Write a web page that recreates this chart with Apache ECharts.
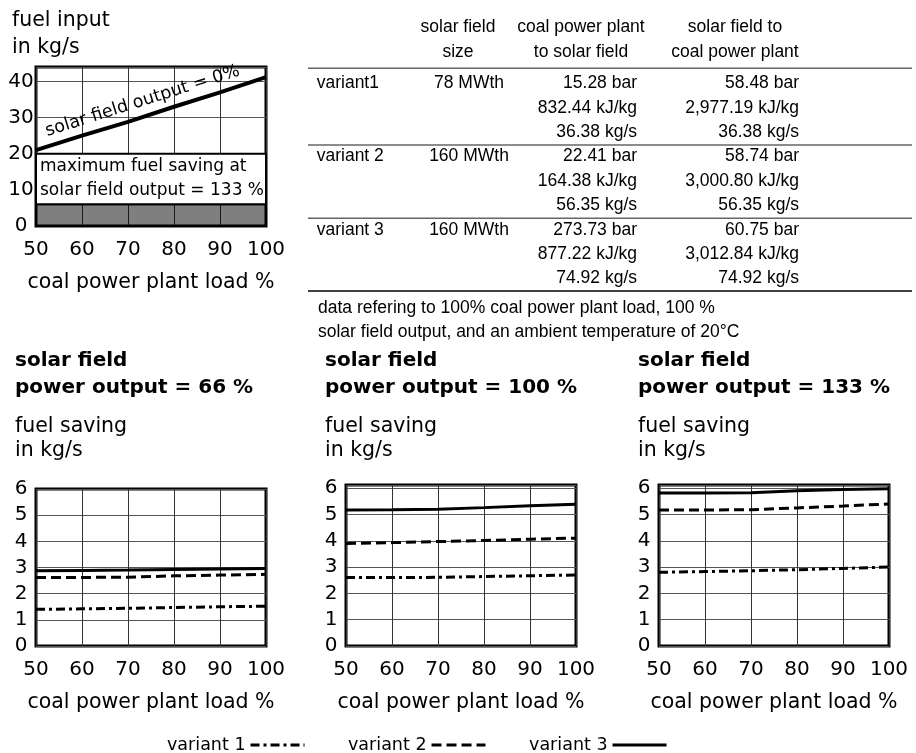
<!DOCTYPE html>
<html>
<head>
<meta charset="utf-8">
<script src="https://cdn.jsdelivr.net/npm/echarts@6/dist/echarts.min.js"></script>
<style>
html, body { margin: 0; padding: 0; background: #fff; }
#chart { width: 916px; height: 753px; }
</style>
</head>
<body>
<div id="chart"></div>
<script>
// coal power plant load in %
const loads = [50, 60, 70, 80, 90, 100]

// fuel input without solar support (kg/s)
const fuelInput0 = [21, 25, 28.8, 33, 37, 41.2]
const maxSaving133 = 6
const noteBoxTop = 20

// fuel saving in kg/s, solar field output 66 %
const saving66V1 = [1.40, 1.42, 1.44, 1.47, 1.50, 1.52]
const saving66V2 = [2.62, 2.62, 2.63, 2.68, 2.71, 2.74]
const saving66V3 = [2.88, 2.89, 2.90, 2.92, 2.94, 2.96]
// solar field output 100 %
const saving100V1 = [2.60, 2.60, 2.61, 2.64, 2.67, 2.70]
const saving100V2 = [3.90, 3.93, 3.97, 4.01, 4.06, 4.10]
const saving100V3 = [5.17, 5.18, 5.20, 5.26, 5.33, 5.39]
// solar field output 133 %
const saving133V1 = [2.80, 2.83, 2.86, 2.90, 2.95, 3.00]
const saving133V2 = [5.17, 5.17, 5.18, 5.25, 5.32, 5.40]
const saving133V3 = [5.82, 5.82, 5.83, 5.90, 5.95, 5.98]

const variantNames = ['variant 1', 'variant 2', 'variant 3']
const panelTitles = ['solar field\npower output = 66 %', 'solar field\npower output = 100 %', 'solar field\npower output = 133 %']

// table
const tableHead = ['solar field\nsize', 'coal power plant\nto solar field', 'solar field to\ncoal power plant']
const tableVariants = ['variant1', 'variant 2', 'variant 3']
const fieldSize = ['78 MWth', '160 MWth', '160 MWth']
const plantToField = [
  ['15.28 bar', '832.44 kJ/kg', '36.38 kg/s'],
  ['22.41 bar', '164.38 kJ/kg', '56.35 kg/s'],
  ['273.73 bar', '877.22 kJ/kg', '74.92 kg/s']
]
const fieldToPlant = [
  ['58.48 bar', '2,977.19 kJ/kg', '36.38 kg/s'],
  ['58.74 bar', '3,000.80 kJ/kg', '56.35 kg/s'],
  ['60.75 bar', '3,012.84 kJ/kg', '74.92 kg/s']
]
const tableNote = 'data refering to 100% coal power plant load, 100 %\nsolar field output, and an ambient temperature of 20°C'

const fontChart = 'DejaVu Sans'
const fontTable = 'Liberation Sans'
const lineTypes = [[9, 4, 3, 4], [10, 5], 'solid']

const myChart = echarts.init(document.getElementById('chart'))

const gridBoxes = [
  { left: 36, top: 67, width: 230, height: 159 },
  { left: 36, top: 489, width: 230, height: 157 },
  { left: 346, top: 485, width: 230, height: 161 },
  { left: 659, top: 485, width: 230, height: 161 }
]
const yMax = [44, 6, 6.12, 6.12]
const yStep = [10, 1, 1, 1]

const grids = gridBoxes.map(g => Object.assign({
  show: true,
  borderColor: '#000',
  borderWidth: 3,
  backgroundColor: 'transparent',
  containLabel: false,
  outerBoundsMode: 'none'
}, g))

const xAxes = gridBoxes.map((g, i) => ({
  gridIndex: i,
  type: 'value',
  min: 50,
  max: 100,
  interval: 10,
  axisLine: { show: false },
  axisTick: { show: false },
  axisLabel: { color: '#000', fontSize: 20, fontFamily: fontChart, margin: 14 },
  splitLine: { show: true, lineStyle: { color: '#333', width: 1 } },
  name: 'coal power plant load %',
  nameLocation: 'middle',
  nameGap: 46,
  nameTextStyle: { color: '#000', fontSize: 20.5, fontFamily: fontChart }
}))

const yAxes = gridBoxes.map((g, i) => ({
  gridIndex: i,
  type: 'value',
  min: 0,
  max: yMax[i],
  interval: yStep[i],
  axisLine: { show: false },
  axisTick: { show: false },
  axisLabel: {
    color: '#000',
    fontSize: 20,
    fontFamily: fontChart,
    align: 'center',
    margin: 15,
    formatter: function(v) {
      return Math.abs(v / yStep[i] - Math.round(v / yStep[i])) < 1e-6 ? String(v) : ''
    }
  },
  splitLine: { show: true, lineStyle: { color: '#555', width: 1 } }
}))

function pairs(arr) {
  return loads.map((x, j) => [x, arr[j]])
}

let series = []

// top panel: fuel input at solar field output = 0 %
series.push({
  name: 'fuel input',
  type: 'line',
  xAxisIndex: 0,
  yAxisIndex: 0,
  data: pairs(fuelInput0),
  symbol: 'none',
  silent: true,
  lineStyle: { color: '#000', width: 4, type: 'solid' },
  markPoint: {
    symbol: 'circle',
    symbolSize: 1,
    silent: true,
    itemStyle: { color: 'rgba(0,0,0,0)' },
    label: {
      show: true,
      position: 'inside',
      rotate: 17.5,
      offset: [-4, -15],
      formatter: 'solar field output = 0%',
      color: '#000',
      fontSize: 17.5,
      fontFamily: fontChart
    },
    data: [{ coord: [(loads[2] + loads[3]) / 2, (fuelInput0[2] + fuelInput0[3]) / 2] }]
  },
  markArea: {
    silent: true,
    label: { show: false },
    data: [
      [
        { yAxis: 0, itemStyle: { color: 'rgba(0,0,0,0.5)', borderColor: '#000', borderWidth: 2 } },
        { yAxis: maxSaving133 }
      ],
      [
        {
          yAxis: maxSaving133,
          itemStyle: { color: '#fff', borderColor: '#000', borderWidth: 2 },
          label: {
            show: true,
            position: 'insideLeft',
            distance: 5,
            formatter: 'maximum fuel saving at\nsolar field output = 133 %',
            color: '#000',
            fontSize: 17,
            lineHeight: 24,
            fontFamily: fontChart
          }
        },
        { yAxis: noteBoxTop }
      ]
    ]
  }
})

const panelData = [
  [saving66V1, saving66V2, saving66V3],
  [saving100V1, saving100V2, saving100V3],
  [saving133V1, saving133V2, saving133V3]
]
panelData.forEach((set, p) => {
  set.forEach((vals, k) => {
    series.push({
      name: variantNames[k],
      type: 'line',
      xAxisIndex: p + 1,
      yAxisIndex: p + 1,
      data: pairs(vals),
      symbol: 'none',
      showSymbol: false,
      silent: true,
      color: '#000',
      lineStyle: { color: '#000', width: 3, type: lineTypes[k] }
    })
  })
})

// titles and table drawn as graphic text
let graphics = []
graphics.push({
  type: 'text', x: 12, y: 7.5,
  style: { text: 'fuel input\nin kg/s', fontSize: 20.5, fontFamily: fontChart, fill: '#000', lineHeight: 27, align: 'left', verticalAlign: 'top' }
})
const panelLeft = [15, 325, 638]
panelTitles.forEach((t, p) => {
  graphics.push({
    type: 'text', x: panelLeft[p], y: 347.5,
    style: { text: t, fontSize: 20, fontWeight: 'bold', fontFamily: fontChart, fill: '#000', lineHeight: 27, align: 'left', verticalAlign: 'top' }
  })
  graphics.push({
    type: 'text', x: panelLeft[p], y: 415,
    style: { text: 'fuel saving\nin kg/s', fontSize: 20.5, fontFamily: fontChart, fill: '#000', lineHeight: 24, align: 'left', verticalAlign: 'top' }
  })
})

const headX = [458, 581, 735]
tableHead.forEach((h, k) => {
  graphics.push({
    type: 'text', x: headX[k], y: 14.2,
    style: { text: h, fontSize: 17.5, fontFamily: fontTable, fill: '#000', lineHeight: 25, align: 'center', verticalAlign: 'top' }
  })
})
const rowTop = 83.3
const rowStep = 24.4
tableVariants.forEach((v, i) => {
  const y0 = rowTop + i * 3 * rowStep
  graphics.push({
    type: 'text', x: 316.7, y: y0,
    style: { text: v, fontSize: 17.5, fontFamily: fontTable, fill: '#000', align: 'left', verticalAlign: 'middle' }
  })
  graphics.push({
    type: 'text', x: 469, y: y0,
    style: { text: fieldSize[i], fontSize: 17.5, fontFamily: fontTable, fill: '#000', align: 'center', verticalAlign: 'middle' }
  })
  graphics.push({
    type: 'text', x: 637, y: y0 - rowStep / 2,
    style: { text: plantToField[i].join('\n'), fontSize: 17.5, fontFamily: fontTable, fill: '#000', lineHeight: rowStep, align: 'right', verticalAlign: 'top' }
  })
  graphics.push({
    type: 'text', x: 799, y: y0 - rowStep / 2,
    style: { text: fieldToPlant[i].join('\n'), fontSize: 17.5, fontFamily: fontTable, fill: '#000', lineHeight: rowStep, align: 'right', verticalAlign: 'top' }
  })
})
const ruleYs = [68.3, 145, 218.3, 291]
const ruleColors = ['#666', '#666', '#666', '#000']
ruleYs.forEach((y, k) => {
  graphics.push({
    type: 'line',
    shape: { x1: 308, y1: y, x2: 912, y2: y },
    style: { stroke: ruleColors[k], lineWidth: 1.5 }
  })
})
graphics.push({
  type: 'text', x: 318, y: 296.6,
  style: { text: tableNote, fontSize: 17.5, fontFamily: fontTable, fill: '#000', lineHeight: 23.4, align: 'left', verticalAlign: 'top' }
})

const option = {
  animation: false,
  backgroundColor: '#fff',
  grid: grids,
  xAxis: xAxes,
  yAxis: yAxes,
  legend: {
    data: variantNames,
    left: 162,
    top: 731,
    align: 'right',
    itemWidth: 54,
    itemHeight: 14,
    itemGap: 42,
    selectedMode: false,
    textStyle: { color: '#000', fontSize: 17.5, fontFamily: fontChart },
    itemStyle: { opacity: 0, borderWidth: 0 },
    lineStyle: { width: 3 }
  },
  graphic: graphics,
  series: series
}

myChart.setOption(option)
window.addEventListener('resize', function() {
  myChart.resize()
})
</script>
</body>
</html>
